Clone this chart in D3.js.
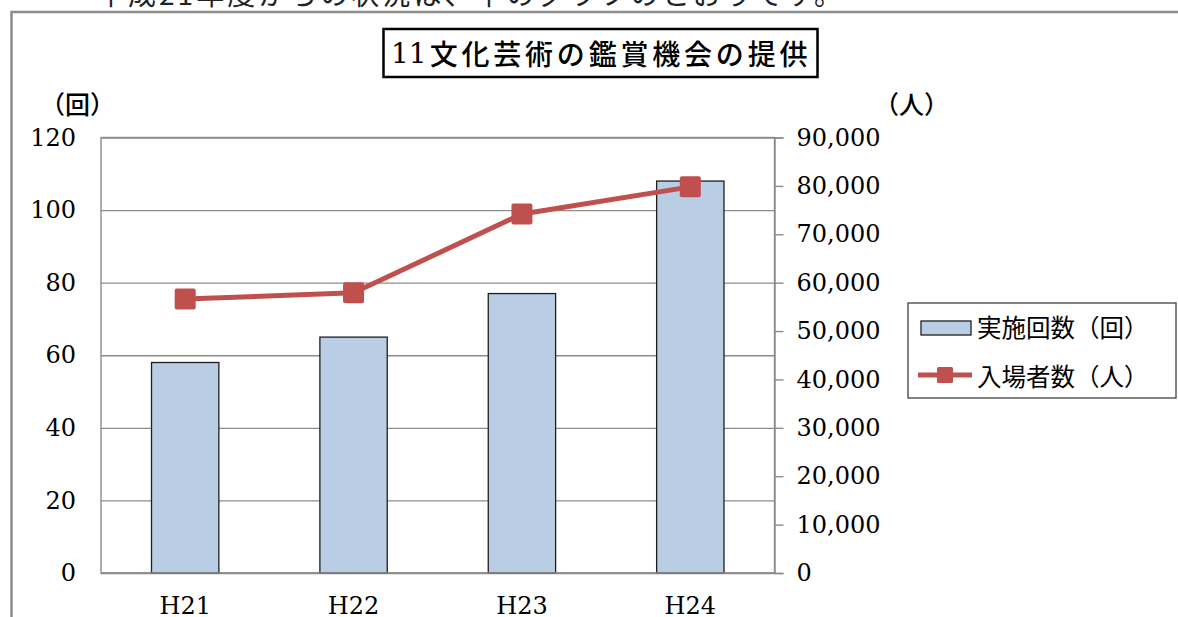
<!DOCTYPE html>
<html>
<head>
<meta charset="utf-8">
<script src="https://cdn.jsdelivr.net/npm/d3@7"></script>
<style>
  html, body { margin: 0; padding: 0; background: #fff; }
  #chart { width: 1178px; height: 617px; overflow: hidden; }
</style>
</head>
<body>
<div id="chart"></div>
<script>
// data
const categories = ["H21", "H22", "H23", "H24"];
const eventCounts = [58, 65, 77, 108];              // 実施回数（回）
const visitors = [56600, 57900, 74200, 79800];      // 入場者数（人）
const leftTicks = [0, 20, 40, 60, 80, 100, 120];
const rightTicks = [0, 10000, 20000, 30000, 40000, 50000, 60000, 70000, 80000, 90000];

const titleNumber = "11";
const titleText = "文化芸術の鑑賞機会の提供";
const introText = "平成21年度からの状況は、下のグラフのとおりです。";
const legendLabels = ["実施回数（回）", "入場者数（人）"];

function renderChart(containerId) {
  const container = d3.select(containerId);
  container.selectAll("*").remove();

  const W = 1178, H = 617;
  // plot area edges
  const plot = { left: 101, right: 774.5, top: 137.5, bottom: 573 };

  const serif = "'DejaVu Serif', 'Liberation Serif', serif";
  const cjk = "'Noto Sans CJK JP', sans-serif";
  const red = "#C0504D";
  const gridColor = "#8c8c8c";

  const svg = container.append("svg")
    .attr("width", W)
    .attr("height", H)
    .attr("viewBox", `0 0 ${W} ${H}`);

  // text above the frame (cut off at the top)
  svg.append("text")
    .attr("x", 97)
    .attr("y", 5)
    .attr("textLength", 745)
    .style("font-family", cjk)
    .style("font-size", "28px")
    .style("fill", "#222")
    .text(introText);

  // outer frame (left + top edge)
  svg.append("path")
    .attr("d", `M11.5,617 V12 H1178`)
    .attr("fill", "none")
    .attr("stroke", gridColor)
    .attr("stroke-width", 2.5);

  // title box
  svg.append("rect")
    .attr("x", 383.5).attr("y", 29)
    .attr("width", 434).attr("height", 48)
    .attr("fill", "#fff")
    .attr("stroke", "#000")
    .attr("stroke-width", 2.5);

  const title = svg.append("text")
    .attr("x", 391)
    .attr("y", 53)
    .attr("dominant-baseline", "central")
    .style("font-size", "28px")
    .style("font-weight", 500)
    .style("fill", "#000");
  title.append("tspan")
    .style("font-family", serif)
    .text(titleNumber);
  title.append("tspan")
    .attr("dx", 3)
    .style("font-family", cjk)
    .style("letter-spacing", "3.8px")
    .text(titleText);

  // scales
  const x = d3.scaleBand()
    .domain(categories)
    .range([plot.left, plot.right])
    .paddingInner(0.6)
    .paddingOuter(0.3);

  const yLeft = d3.scaleLinear().domain([0, 120]).range([plot.bottom, plot.top]);
  const yRight = d3.scaleLinear().domain([0, 90000]).range([plot.bottom, plot.top]);

  // gridlines + left labels
  const leftAxis = svg.append("g")
    .attr("transform", `translate(${plot.left},0)`)
    .call(d3.axisLeft(yLeft)
      .tickValues(leftTicks)
      .tickSizeInner(-(plot.right - plot.left))
      .tickSizeOuter(0)
      .tickPadding(25));
  leftAxis.select(".domain").remove();
  leftAxis.selectAll("line")
    .attr("stroke", gridColor)
    .attr("stroke-width", 1.4);
  leftAxis.selectAll("text")
    .style("font-family", serif)
    .style("font-size", "24px")
    .style("fill", "#000");

  // plot area border
  svg.append("rect")
    .attr("x", plot.left).attr("y", plot.top)
    .attr("width", plot.right - plot.left)
    .attr("height", plot.bottom - plot.top)
    .attr("fill", "none")
    .attr("stroke", gridColor)
    .attr("stroke-width", 1.4);

  // bars
  svg.append("g")
    .selectAll("rect")
    .data(categories)
    .join("rect")
    .attr("x", d => x(d))
    .attr("y", (d, i) => yLeft(eventCounts[i]))
    .attr("width", x.bandwidth())
    .attr("height", (d, i) => plot.bottom - yLeft(eventCounts[i]))
    .attr("fill", "#B9CDE5")
    .attr("stroke", "#1f1f1f")
    .attr("stroke-width", 1.3);

  // baseline
  svg.append("line")
    .attr("x1", plot.left).attr("x2", plot.right)
    .attr("y1", plot.bottom).attr("y2", plot.bottom)
    .attr("stroke", gridColor)
    .attr("stroke-width", 1.6);

  // right axis
  const rightAxis = svg.append("g")
    .attr("transform", `translate(${plot.right},0)`)
    .call(d3.axisRight(yRight)
      .tickValues(rightTicks)
      .tickSize(9)
      .tickPadding(13)
      .tickFormat(d3.format(",")));
  rightAxis.select(".domain")
    .attr("stroke", gridColor)
    .attr("stroke-width", 1.4);
  rightAxis.selectAll("line")
    .attr("stroke", gridColor)
    .attr("stroke-width", 1.4);
  rightAxis.selectAll("text")
    .style("font-family", serif)
    .style("font-size", "24px")
    .style("fill", "#000");

  // category labels (near the bottom edge, as in the source)
  svg.append("g")
    .selectAll("text")
    .data(categories)
    .join("text")
    .attr("x", d => x(d) + x.bandwidth() / 2)
    .attr("y", 614)
    .attr("text-anchor", "middle")
    .style("font-family", serif)
    .style("font-size", "24px")
    .style("fill", "#000")
    .text(d => d);

  // visitors line
  const cx = d => x(d) + x.bandwidth() / 2;
  const line = d3.line()
    .x(d => cx(d))
    .y((d, i) => yRight(visitors[i]));

  svg.append("path")
    .datum(categories)
    .attr("d", line)
    .attr("fill", "none")
    .attr("stroke", red)
    .attr("stroke-width", 5)
    .attr("stroke-linejoin", "round");

  const mk = 21;
  svg.append("g")
    .selectAll("rect")
    .data(categories)
    .join("rect")
    .attr("x", d => cx(d) - mk / 2)
    .attr("y", (d, i) => yRight(visitors[i]) - mk / 2)
    .attr("width", mk)
    .attr("height", mk)
    .attr("rx", 2)
    .attr("fill", red);

  // axis unit labels
  svg.append("text")
    .attr("x", 40).attr("y", 103)
    .attr("dominant-baseline", "central")
    .style("font-family", cjk)
    .style("font-size", "25px")
    .style("font-weight", 500)
    .style("fill", "#000")
    .text("（回）");

  svg.append("text")
    .attr("x", 874).attr("y", 103)
    .attr("dominant-baseline", "central")
    .style("font-family", cjk)
    .style("font-size", "25px")
    .style("font-weight", 500)
    .style("fill", "#000")
    .text("（人）");

  // legend
  const legend = svg.append("g");
  legend.append("rect")
    .attr("x", 908).attr("y", 303)
    .attr("width", 268).attr("height", 95)
    .attr("fill", "#fff")
    .attr("stroke", "#404040")
    .attr("stroke-width", 1.3);

  legend.append("rect")
    .attr("x", 921).attr("y", 321)
    .attr("width", 50).attr("height", 14)
    .attr("fill", "#B9CDE5")
    .attr("stroke", "#1f1f1f")
    .attr("stroke-width", 1.3);

  legend.append("line")
    .attr("x1", 918).attr("x2", 972)
    .attr("y1", 375).attr("y2", 375)
    .attr("stroke", red)
    .attr("stroke-width", 5);
  legend.append("rect")
    .attr("x", 937).attr("y", 367)
    .attr("width", 16).attr("height", 16)
    .attr("rx", 1.5)
    .attr("fill", red);

  legend.selectAll("text.lbl")
    .data(legendLabels)
    .join("text")
    .attr("class", "lbl")
    .attr("x", 977)
    .attr("y", (d, i) => 326 + i * 49)
    .attr("dominant-baseline", "central")
    .style("font-family", cjk)
    .style("font-size", "24.5px")
    .style("fill", "#000")
    .text(d => d);
}

renderChart("#chart");
</script>
</body>
</html>
